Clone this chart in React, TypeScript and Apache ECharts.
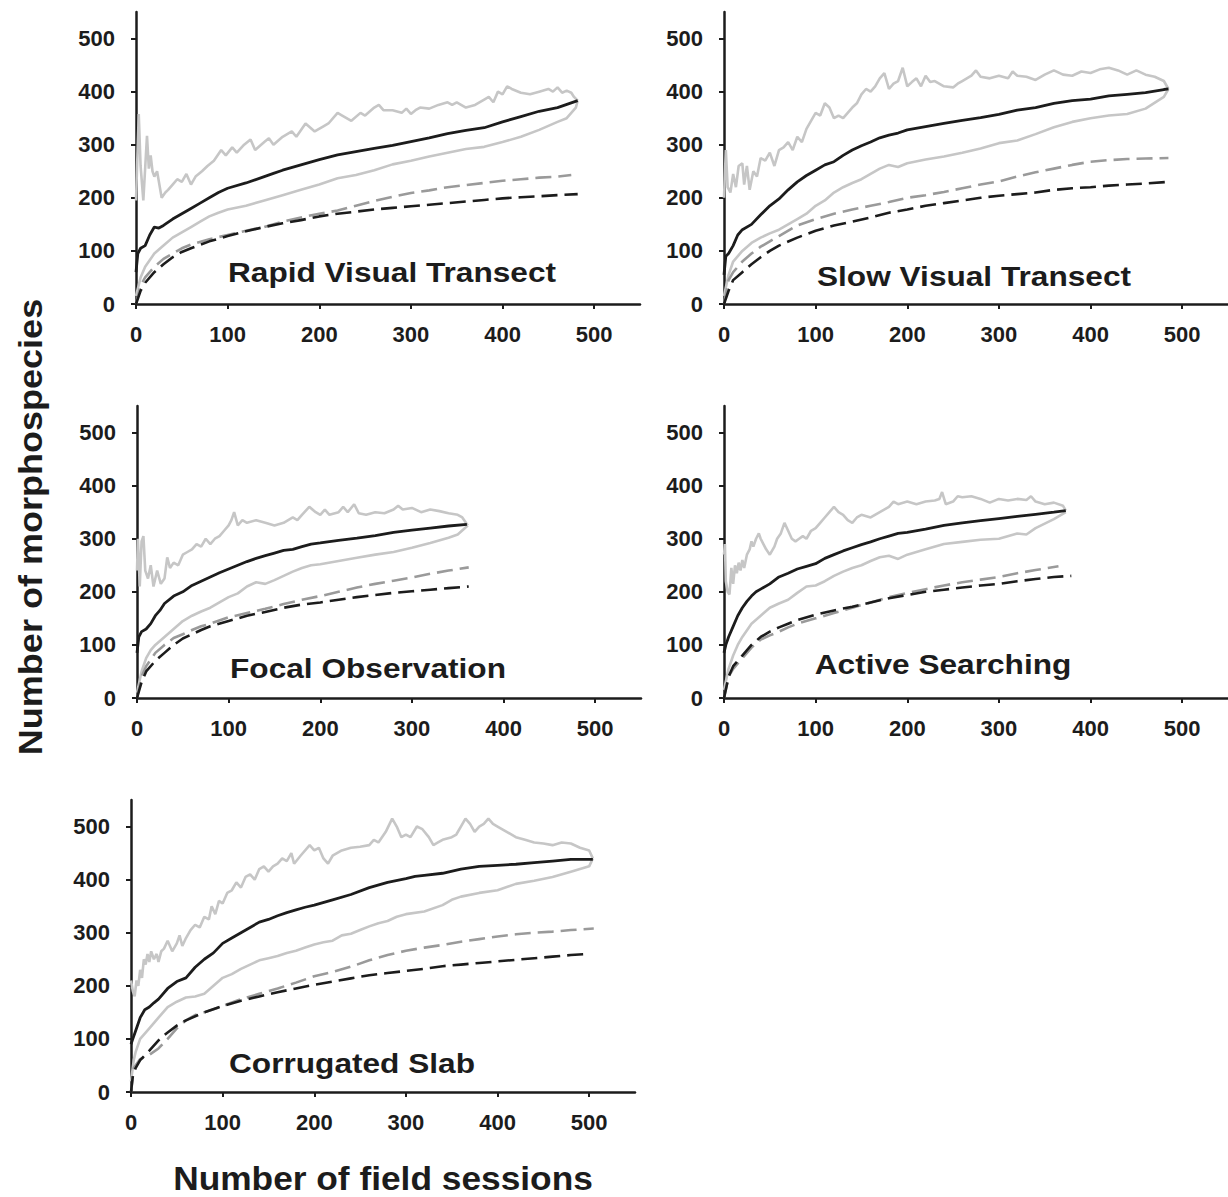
import React, { useEffect, useRef } from "react";
import * as echarts from "echarts";

type P = [number, number][];

const panelTitles = ["Rapid Visual Transect", "Slow Visual Transect", "Focal Observation", "Active Searching", "Corrugated Slab"];
const xTicks = [0, 100, 200, 300, 400, 500];
const yTicks = [0, 100, 200, 300, 400, 500];
const yAxisTitle = "Number of morphospecies";
const xAxisTitle = "Number of field sessions";

// Rapid Visual Transect
const rvtMean: P = [[0,60],[2,95],[5,105],[10,110],[15,130],[20,145],[25,143],[30,148],[40,160],[50,170],[60,180],[70,190],[80,200],[90,210],[100,218],[120,228],[140,240],[150,246],[160,252],[180,262],[200,272],[220,281],[240,287],[260,293],[280,299],[300,306],[320,313],[340,321],[360,327],[380,332],[400,343],[420,353],[440,363],[460,370],[482,383]];
const rvtUpper: P = [[0,195],[3,358],[5,260],[8,195],[12,317],[14,255],[16,280],[18,250],[20,240],[23,250],[28,200],[32,210],[35,215],[40,225],[45,235],[50,230],[55,245],[60,225],[65,240],[72,250],[78,260],[85,270],[93,290],[98,280],[105,295],[110,285],[118,300],[125,310],[130,290],[140,305],[145,312],[150,300],[160,315],[170,325],[175,315],[185,340],[195,325],[205,335],[210,340],[220,360],[225,355],[235,345],[245,360],[250,355],[260,370],[265,375],[270,365],[280,365],[290,360],[295,368],[300,358],[305,365],[310,370],[320,368],[330,375],[340,380],[345,375],[350,380],[360,370],[370,375],[380,385],[385,390],[390,380],[395,400],[400,395],[405,410],[410,405],[420,398],[430,395],[440,400],[450,405],[455,400],[460,408],[465,398],[470,402],[475,398],[478,390],[482,383]];
const rvtLower: P = [[0,15],[5,50],[10,70],[20,95],[30,110],[40,125],[50,135],[60,145],[70,155],[80,165],[90,172],[100,178],[120,185],[140,195],[160,205],[180,215],[200,225],[220,237],[240,243],[260,252],[280,263],[300,270],[320,278],[340,285],[360,292],[380,296],[400,305],[420,315],[440,328],[460,343],[470,350],[480,370],[482,383]];
const rvtGreyDash: P = [[0,0],[5,35],[10,50],[20,70],[30,85],[40,95],[50,105],[60,112],[80,122],[100,130],[120,138],[140,145],[160,155],[180,163],[200,170],[220,176],[240,185],[260,194],[280,202],[300,209],[320,214],[340,220],[360,224],[380,228],[400,232],[420,235],[440,238],[460,240],[475,243]];
const rvtBlackDash: P = [[0,0],[5,25],[10,40],[20,60],[30,75],[40,88],[50,98],[60,105],[80,118],[100,128],[120,137],[140,145],[160,152],[180,158],[200,165],[220,170],[240,174],[260,178],[280,181],[300,184],[320,187],[340,190],[360,193],[380,196],[400,199],[420,201],[440,203],[460,205],[482,207]];

// Slow Visual Transect
const svtMean: P = [[0,55],[2,90],[5,95],[10,110],[15,130],[20,140],[30,150],[40,168],[50,185],[60,198],[70,215],[80,230],[90,242],[100,252],[110,262],[120,268],[130,280],[140,290],[150,298],[160,305],[170,313],[180,318],[190,322],[200,328],[220,334],[240,340],[260,346],[280,351],[300,357],[320,365],[340,370],[360,378],[380,383],[400,386],[420,392],[440,395],[460,398],[480,404],[485,405]];
const svtUpper: P = [[0,200],[2,290],[4,220],[7,210],[10,245],[13,220],[16,260],[20,265],[22,225],[25,260],[28,215],[32,250],[36,240],[40,275],[45,270],[50,285],[55,260],[60,290],[65,295],[70,305],[75,290],[80,315],[85,305],[90,330],[95,345],[100,360],[105,355],[110,378],[115,370],[120,350],[125,355],[130,350],[140,370],[145,378],[150,395],[155,405],[160,400],[165,410],[170,425],[175,435],[180,405],[185,415],[190,420],[195,445],[200,410],[205,418],[210,425],[215,410],[220,430],[225,418],[230,420],[240,410],[250,408],[255,415],[260,420],[270,430],[275,440],[280,428],[290,425],[300,430],[310,425],[315,438],[320,430],[330,428],[340,422],[350,432],[360,440],[370,432],[380,430],[390,438],[400,435],[410,442],[420,445],[430,440],[440,432],[450,440],[460,432],[470,428],[480,420],[485,405]];
const svtLower: P = [[0,15],[5,55],[10,80],[20,100],[30,115],[40,125],[50,133],[60,140],[70,150],[80,160],[90,170],[100,185],[110,195],[120,210],[130,220],[140,228],[150,235],[160,245],[170,255],[180,262],[190,258],[200,265],[220,272],[240,278],[260,285],[280,293],[300,303],[320,308],[340,320],[360,333],[380,343],[400,350],[420,355],[440,358],[460,368],[480,390],[485,405]];
const svtGreyDash: P = [[0,0],[5,45],[10,60],[20,80],[30,95],[40,108],[50,118],[60,128],[80,148],[100,160],[120,170],[140,178],[160,185],[180,192],[200,200],[220,205],[240,211],[260,218],[280,225],[300,231],[320,240],[340,248],[360,255],[380,262],[400,268],[420,271],[440,273],[460,274],[485,275]];
const svtBlackDash: P = [[0,0],[5,25],[10,45],[20,60],[30,75],[40,88],[50,100],[60,110],[80,125],[100,138],[120,148],[140,155],[160,163],[180,172],[200,178],[220,185],[240,190],[260,195],[280,200],[300,204],[320,207],[340,210],[360,215],[380,218],[400,220],[420,223],[440,225],[460,227],[485,230]];

// Focal Observation
const foMean: P = [[0,85],[2,115],[5,125],[10,130],[15,140],[20,155],[25,165],[30,178],[40,192],[50,200],[60,212],[70,220],[80,228],[90,236],[100,243],[110,250],[120,257],[130,263],[140,268],[150,273],[160,278],[170,280],[180,285],[190,290],[200,292],[220,297],[240,301],[260,306],[280,312],[300,316],[320,320],[340,324],[360,327]];
const foUpper: P = [[0,240],[1,300],[3,210],[5,295],[7,305],[9,240],[12,225],[15,250],[18,210],[22,240],[26,215],[30,225],[33,265],[36,245],[40,255],[45,250],[50,270],[55,275],[60,280],[65,290],[70,285],[75,300],[80,290],[85,300],[90,305],[95,315],[100,325],[103,335],[106,350],[110,325],[115,335],[120,330],[130,335],[140,330],[150,325],[160,330],[170,340],[175,335],[180,345],[188,360],[195,350],[200,345],[205,355],[210,345],[220,350],[225,360],[230,350],[237,365],[242,348],[250,345],[260,350],[270,348],[280,355],[285,362],[290,355],[300,358],[310,350],[320,355],[330,352],[340,348],[350,345],[355,340],[361,325]];
const foLower: P = [[0,10],[5,50],[10,75],[15,90],[20,100],[30,115],[40,130],[50,145],[60,155],[70,163],[80,170],[90,180],[100,190],[110,197],[120,210],[130,218],[140,215],[150,222],[160,230],[170,238],[180,245],[190,250],[200,252],[220,258],[240,264],[260,270],[280,275],[300,283],[320,292],[340,302],[350,308],[361,325]];
const foGreyDash: P = [[0,0],[5,40],[10,60],[20,85],[30,100],[40,113],[50,120],[60,128],[70,135],[80,140],[100,152],[120,160],[140,168],[160,177],[180,185],[200,192],[220,200],[240,208],[260,215],[280,221],[300,227],[320,234],[340,240],[362,246]];
const foBlackDash: P = [[0,0],[5,30],[10,50],[20,70],[30,85],[40,100],[50,112],[60,120],[70,128],[80,135],[100,145],[120,155],[140,162],[160,170],[180,176],[200,180],[220,185],[240,190],[260,194],[280,198],[300,201],[320,204],[340,207],[362,210]];

// Active Searching
const asMean: P = [[0,85],[2,100],[5,115],[10,135],[15,155],[20,170],[25,182],[30,192],[35,200],[40,205],[50,215],[60,228],[70,235],[80,243],[90,248],[100,253],[110,263],[120,270],[130,277],[140,283],[150,289],[160,294],[170,300],[180,305],[190,310],[200,312],[220,318],[240,325],[260,330],[280,334],[300,338],[320,342],[340,346],[360,350],[373,353]];
const asUpper: P = [[0,270],[1,290],[2,220],[4,200],[6,195],[8,245],[10,215],[12,250],[14,235],[16,255],[18,240],[20,260],[22,245],[25,270],[28,280],[30,295],[32,285],[35,300],[38,310],[40,300],[43,290],[46,280],[50,270],[55,285],[58,300],[62,310],[66,330],[70,315],[74,300],[78,295],[82,300],[86,305],[90,300],[95,315],[100,320],[105,330],[110,340],[115,350],[120,360],[125,350],[130,345],[135,335],[140,330],[145,340],[150,345],[160,340],[170,350],[180,360],[185,370],[190,365],[200,370],[210,365],[220,370],[230,372],[235,375],[238,388],[242,365],[250,370],[255,380],[260,378],[270,380],[280,375],[290,368],[300,375],[310,372],[320,375],[330,373],[335,380],[340,370],[350,365],[360,368],[370,362],[373,353]];
const asLower: P = [[0,15],[5,55],[10,80],[15,100],[20,115],[30,140],[40,155],[50,170],[60,178],[70,185],[80,198],[90,210],[100,212],[110,220],[120,230],[130,238],[140,245],[150,250],[160,258],[170,265],[180,268],[190,262],[200,270],[220,280],[240,290],[260,294],[280,298],[300,300],[320,310],[330,308],[340,320],[360,337],[373,350]];
const asGreyDash: P = [[0,0],[5,40],[10,55],[20,75],[30,95],[40,110],[50,118],[60,125],[70,133],[80,140],[100,150],[120,160],[140,170],[160,180],[180,190],[200,198],[220,205],[240,212],[260,218],[280,223],[300,228],[320,235],[340,241],[365,248]];
const asBlackDash: P = [[0,0],[5,40],[10,60],[20,80],[30,100],[40,115],[50,125],[60,133],[70,140],[80,147],[100,157],[120,165],[140,172],[160,180],[180,188],[200,194],[220,200],[240,204],[260,208],[280,212],[300,215],[320,220],[340,224],[360,228],[379,230]];

// Corrugated Slab
const csMean: P = [[0,90],[2,100],[5,115],[10,140],[15,155],[20,160],[25,168],[30,175],[40,195],[50,208],[60,215],[70,235],[80,250],[90,262],[100,280],[110,290],[120,300],[130,310],[140,320],[150,325],[160,332],[170,338],[180,343],[190,348],[200,352],[220,362],[240,372],[260,385],[280,395],[300,402],[310,406],[320,408],[340,412],[360,420],[380,425],[400,427],[420,429],[440,432],[460,435],[480,438],[504,438]];
const csUpper: P = [[0,210],[2,190],[4,180],[6,210],[8,200],[10,230],[12,215],[14,250],[16,240],[18,260],[20,245],[22,265],[25,250],[28,260],[30,245],[33,265],[36,270],[40,285],[45,265],[50,280],[53,295],[56,275],[60,290],[65,305],[70,315],[75,310],[80,330],[85,325],[88,350],[92,335],[96,360],[100,355],[105,375],[110,380],[115,395],[120,385],[125,405],[130,410],[135,400],[140,420],[145,425],[150,415],[155,425],[160,430],[165,440],[170,435],[175,450],[178,430],[185,445],[195,465],[200,455],[205,460],[210,440],[215,430],[220,445],[230,455],[240,460],[250,462],[260,465],[265,475],[270,470],[278,490],[285,515],[290,500],[295,480],[300,485],[305,480],[312,500],[318,495],[325,480],[330,465],[335,470],[340,475],[350,480],[355,485],[360,500],[365,515],[370,505],[375,490],[380,500],[385,505],[390,515],[395,505],[400,500],[410,490],[420,480],[430,475],[440,470],[450,468],[460,465],[470,470],[480,468],[490,460],[500,455],[504,440]];
const csLower: P = [[0,20],[3,60],[5,75],[10,100],[20,120],[30,140],[40,160],[50,170],[60,178],[70,180],[80,185],[90,200],[100,215],[110,222],[120,232],[130,240],[140,248],[150,252],[160,256],[170,262],[180,266],[190,272],[200,278],[210,282],[220,285],[230,295],[240,298],[250,305],[260,312],[270,318],[280,322],[290,330],[300,335],[320,340],[340,352],[350,362],[360,368],[380,375],[400,380],[420,392],[440,398],[460,405],[480,415],[500,425],[504,440]];
const csGreyDash: P = [[0,0],[3,45],[10,62],[20,70],[30,82],[40,100],[50,120],[60,135],[70,145],[80,150],[100,162],[120,175],[140,185],[160,195],[180,206],[200,218],[220,226],[240,236],[260,248],[280,258],[300,266],[320,272],[340,277],[360,283],[380,288],[400,293],[420,297],[440,300],[460,302],[480,305],[505,308]];
const csBlackDash: P = [[0,0],[2,30],[5,45],[10,60],[20,78],[32,101],[40,112],[50,125],[60,135],[80,150],[100,162],[120,172],[140,180],[160,188],[180,195],[200,202],[220,208],[240,214],[260,220],[280,224],[300,228],[320,232],[340,237],[360,240],[380,243],[400,246],[420,249],[440,252],[460,255],[480,258],[500,260]];

const panelsData = [
  [rvtUpper, rvtLower, rvtGreyDash, rvtBlackDash, rvtMean],
  [svtUpper, svtLower, svtGreyDash, svtBlackDash, svtMean],
  [foUpper, foLower, foGreyDash, foBlackDash, foMean],
  [asUpper, asLower, asGreyDash, asBlackDash, asMean],
  [csUpper, csLower, csGreyDash, csBlackDash, csMean],
];

const grids = [
  { left: 136, top: 12, width: 504, height: 292 },
  { left: 724, top: 12, width: 504, height: 292 },
  { left: 137, top: 406, width: 504, height: 292 },
  { left: 724, top: 406, width: 504, height: 292 },
  { left: 131, top: 800, width: 504, height: 292 },
];
const titlePos = [
  [392, 272],
  [974, 276],
  [368, 668],
  [943, 664],
  [352, 1063],
];

const FONT = "'Liberation Sans', Arial, Helvetica, sans-serif";
const INK = "#1c1c1c";

const lineStyles = [
  { color: "#c6c6c6", width: 2.6, type: "solid" },
  { color: "#c6c6c6", width: 2.6, type: "solid" },
  { color: "#9a9a9a", width: 2.6, type: [16, 7] },
  { color: INK, width: 2.6, type: [16, 7] },
  { color: INK, width: 2.8, type: "solid" },
];

export default function App() {
  const ref = useRef<HTMLDivElement>(null);
  useEffect(() => {
    if (!ref.current) return;
    const chart = echarts.init(ref.current, undefined, { renderer: "svg" });
    const axisCommon = {
      min: 0,
      max: 550,
      interval: 100,
      splitLine: { show: false },
      axisLine: { show: true, onZero: false, lineStyle: { color: INK, width: 2.5 } },
      axisTick: { show: true, length: 5, inside: false, lineStyle: { color: INK, width: 2 } },
    };
    const labelStyle = { fontSize: 22, fontWeight: "bold", fontFamily: FONT, color: INK };
    const xAxis = grids.map((_, i) => ({
      ...axisCommon,
      type: "value",
      gridIndex: i,
      axisTick: { ...axisCommon.axisTick, customValues: xTicks },
      axisLabel: { ...labelStyle, customValues: xTicks, margin: 19 },
    }));
    const yAxis = grids.map((_, i) => ({
      ...axisCommon,
      type: "value",
      gridIndex: i,
      axisTick: { ...axisCommon.axisTick, customValues: yTicks },
      axisLabel: { ...labelStyle, customValues: yTicks, margin: 21 },
    }));
    const series: any[] = [];
    panelsData.forEach((lines, i) => {
      lines.forEach((d, j) => {
        series.push({
          type: "line",
          xAxisIndex: i,
          yAxisIndex: i,
          data: d,
          showSymbol: false,
          symbol: "none",
          smooth: false,
          lineStyle: lineStyles[j],
          z: 2 + j,
          silent: true,
        });
      });
    });
    const graphic: any[] = panelTitles.map((t, i) => ({
      type: "text",
      x: titlePos[i][0],
      y: titlePos[i][1],
      scaleX: 1.13,
      style: { text: t, fill: INK, font: `bold 28px ${FONT}`, textAlign: "center", textVerticalAlign: "middle" },
    }));
    graphic.push({
      type: "text",
      x: 30,
      y: 527,
      rotation: Math.PI / 2,
      scaleX: 1.06,
      style: { text: yAxisTitle, fill: INK, font: `bold 34px ${FONT}`, textAlign: "center", textVerticalAlign: "middle" },
    });
    graphic.push({
      type: "text",
      x: 383,
      y: 1178,
      scaleX: 1.07,
      style: { text: xAxisTitle, fill: INK, font: `bold 33px ${FONT}`, textAlign: "center", textVerticalAlign: "middle" },
    });
    chart.setOption({
      animation: false,
      backgroundColor: "#ffffff",
      grid: grids,
      xAxis,
      yAxis,
      series,
      graphic,
    });
    return () => chart.dispose();
  }, []);
  return <div ref={ref} style={{ position: "absolute", left: 0, top: 0, width: 1228, height: 1197 }} />;
}
